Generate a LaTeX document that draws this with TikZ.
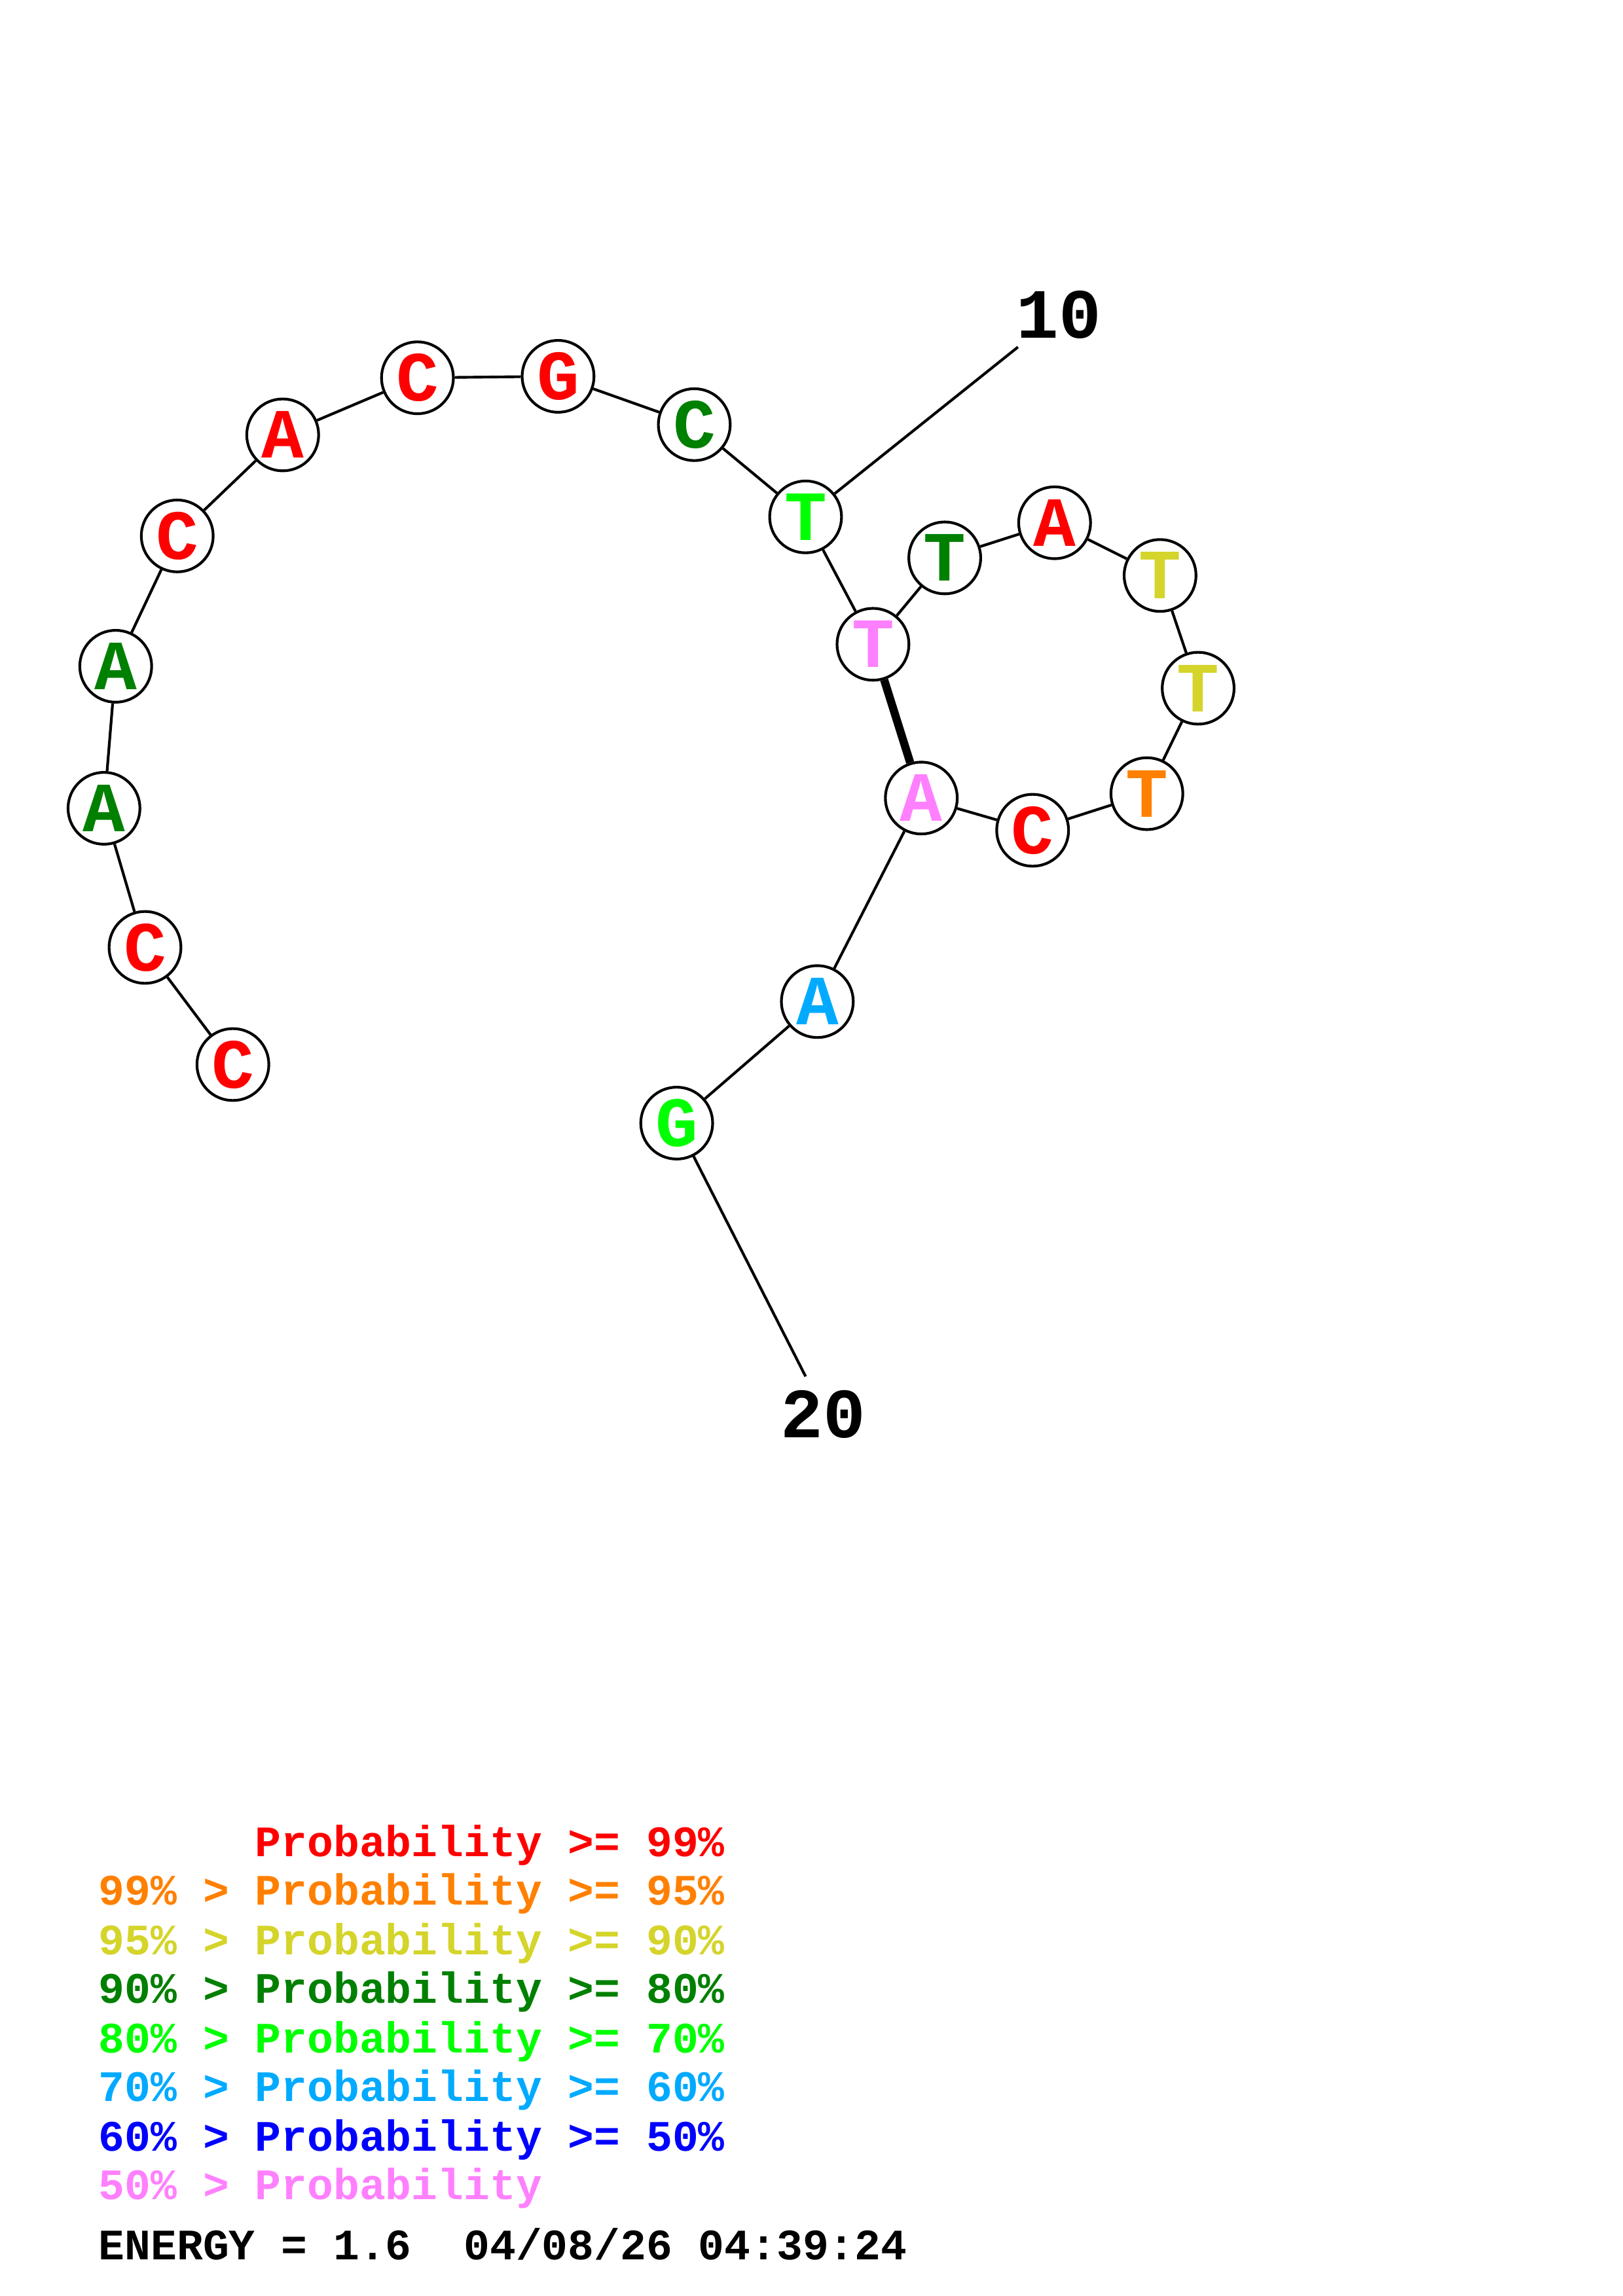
\documentclass[tikz,border=0pt]{standalone}
\usepackage{fontspec}
\setmonofont{Liberation Mono}
\definecolor{cred}{HTML}{FF0000}
\definecolor{corange}{HTML}{FF8000}
\definecolor{cyellow}{HTML}{D4D42B}
\definecolor{cdgreen}{HTML}{008000}
\definecolor{cgreen}{HTML}{00FF00}
\definecolor{cltblue}{HTML}{00AAFF}
\definecolor{cblue}{HTML}{0000FF}
\definecolor{cpink}{HTML}{FF80FF}

\begin{document}
\begin{tikzpicture}[x=0.01895cm,y=-0.01895cm,
  base/.style={circle,draw,line width=1pt,fill=white,minimum size=0.93cm,inner sep=0pt,
    font=\ttfamily\bfseries\fontsize{26}{26}\selectfont},
  numlabel/.style={inner sep=0pt,font=\ttfamily\bfseries\fontsize{26}{26}\selectfont},
  legend/.style={anchor=base west,inner sep=0pt,font=\ttfamily\bfseries\fontsize{16}{16}\selectfont}]
\useasboundingbox (0,0) rectangle (1108,1568);
% bases
\foreach \i/\x/\y/\b/\c in {1/159/727/C/cred, 2/99/647/C/cred, 3/71/552/A/cdgreen,
  4/79/455/A/cdgreen, 5/121/366/C/cred, 6/193/297/A/cred, 7/285/258/C/cred,
  8/381/257/G/cred, 9/474/290/C/cdgreen, 10/550/353/T/cgreen, 11/596/440/T/cpink,
  12/645/381/T/cdgreen, 13/720/357/A/cred, 14/792/393/T/cyellow, 15/818/470/T/cyellow,
  16/783/542/T/corange, 17/705/567/C/cred, 18/629/545/A/cpink, 19/558/684/A/cltblue,
  20/462/767/G/cgreen}
  \node[base,text=\c] (n\i) at (\x,\y) {\b};
% backbone
\foreach \i [count=\j from 2] in {1,...,19}
  \draw[line width=1pt] (n\i) -- (n\j);
% pair
\draw[line width=3pt] (n11) -- (n18);
% numbering
\coordinate (e10) at (695,237);
\coordinate (e20) at (550,940);
\node[numlabel] (l10) at (723,215) {10};
\node[numlabel] (l20) at (562,966) {20};
\draw[line width=1pt] (n10) -- (e10);
\draw[line width=1pt] (n20) -- (e20);
% legend
\foreach \y/\c/\t in {1268/cred/{\hphantom{99\% > }Probability >= 99\%},
  1301/corange/{99\% > Probability >= 95\%},
  1335/cyellow/{95\% > Probability >= 90\%},
  1368/cdgreen/{90\% > Probability >= 80\%},
  1402/cgreen/{80\% > Probability >= 70\%},
  1435/cltblue/{70\% > Probability >= 60\%},
  1469/cblue/{60\% > Probability >= 50\%},
  1502/cpink/{50\% > Probability}}
  \node[legend,text=\c] at (67,\y) {\t};
\node[legend] (energy) at (67,1543) {ENERGY = 1.6~~04/08/26 04:39:24};
\end{tikzpicture}
\end{document}
